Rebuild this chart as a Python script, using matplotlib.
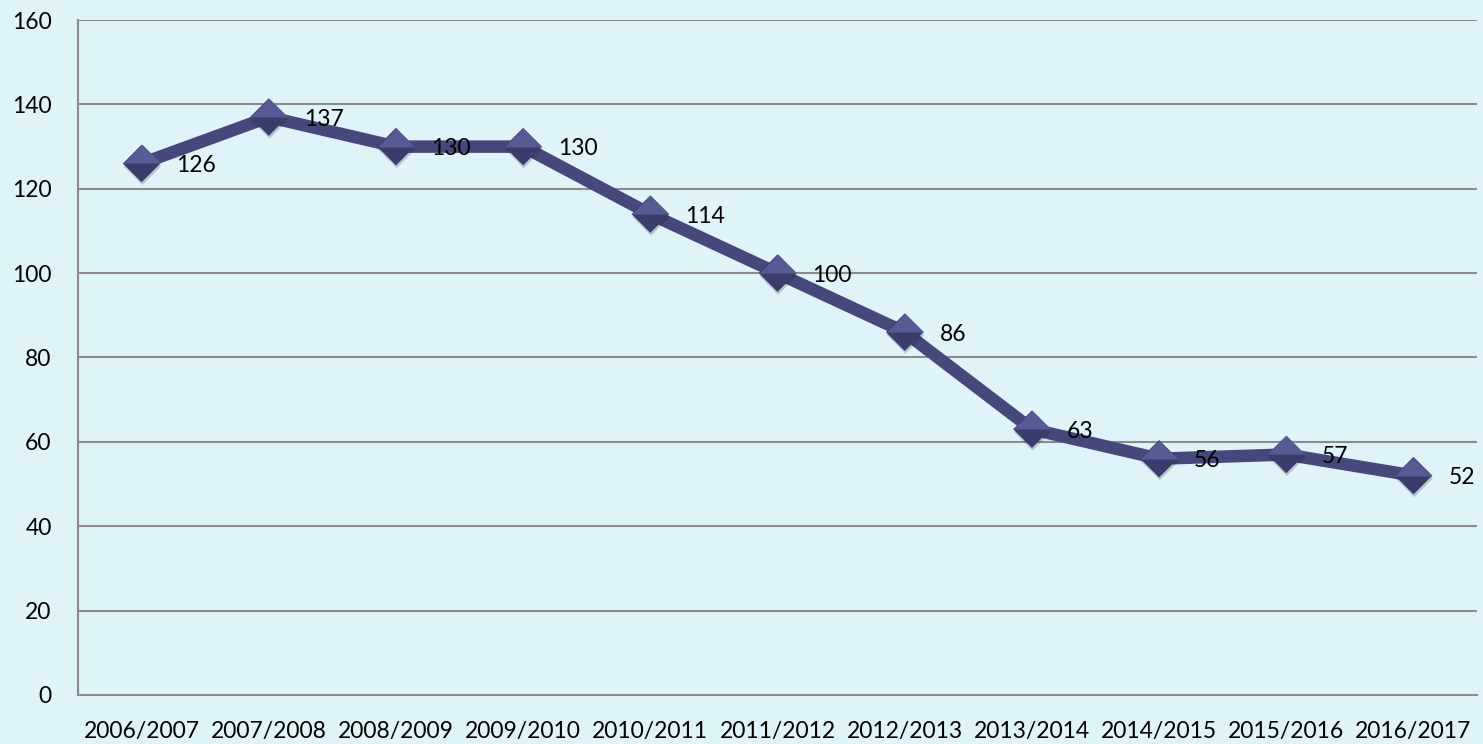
import matplotlib.pyplot as plt
from matplotlib.path import Path
import matplotlib.patheffects as pe

seasons = ["2006/2007", "2007/2008", "2008/2009", "2009/2010", "2010/2011", "2011/2012",
           "2012/2013", "2013/2014", "2014/2015", "2015/2016", "2016/2017"]
values = [126, 137, 130, 130, 114, 100, 86, 63, 56, 57, 52]
yticks = [0, 20, 40, 60, 80, 100, 120, 140, 160]

bg = "#DEF4F9"
line_col = "#45487A"
grid_col = "#8C8C8C"

plt.rcParams["font.family"] = ["Lato", "DejaVu Sans"]

fig = plt.figure(figsize=(14.83, 7.44), dpi=100, facecolor=bg)
ax = fig.add_axes([0.0526, 0.066, 0.9434, 0.907])
ax.set_facecolor(bg)

x = list(range(len(values)))

# diamond markers: full dark shape + lighter upper half for a bevel look
diamond = Path([(-1, 0), (0, 1), (1, 0), (0, -1), (-1, 0)],
               [Path.MOVETO, Path.LINETO, Path.LINETO, Path.LINETO, Path.CLOSEPOLY])
top_half = Path([(-1, 0), (0, 1), (1, 0), (0, -1), (-1, 0)],
                [Path.MOVETO, Path.LINETO, Path.LINETO, Path.MOVETO, Path.MOVETO])

ax.plot(x, values, color=line_col, lw=9, solid_joinstyle="round", zorder=3)
ax.plot(x, values, ls="none", marker=diamond, ms=27, color="#3A3D6C", mec="none", zorder=4,
        path_effects=[pe.SimplePatchShadow(offset=(0.5, -2), alpha=0.2), pe.Normal()])
ax.plot(x, values, ls="none", marker=top_half, ms=27, color="#575B95", mec="none", zorder=5)

for xi, v in zip(x, values):
    ax.annotate(str(v), (xi, v), xytext=(35, -2), textcoords="offset pixels",
                ha="left", va="center", fontsize=16.5, color="black", zorder=6)

ax.set_xlim(-0.5, len(values) - 0.5)
ax.set_ylim(0, 160)
ax.set_yticks(yticks)
ax.set_xticks(x)
ax.set_xticklabels(seasons)
ax.tick_params(axis="both", length=0, labelsize=16.5, colors="black")
ax.tick_params(axis="y", pad=19)
ax.tick_params(axis="x", pad=19)

ax.grid(axis="y", color=grid_col, lw=1.5)
ax.set_axisbelow(True)
for side in ["top", "right"]:
    ax.spines[side].set_visible(False)
for side in ["left", "bottom"]:
    ax.spines[side].set_color(grid_col)
    ax.spines[side].set_linewidth(1.5)

fig.savefig("out.png", dpi=100, facecolor=bg)
